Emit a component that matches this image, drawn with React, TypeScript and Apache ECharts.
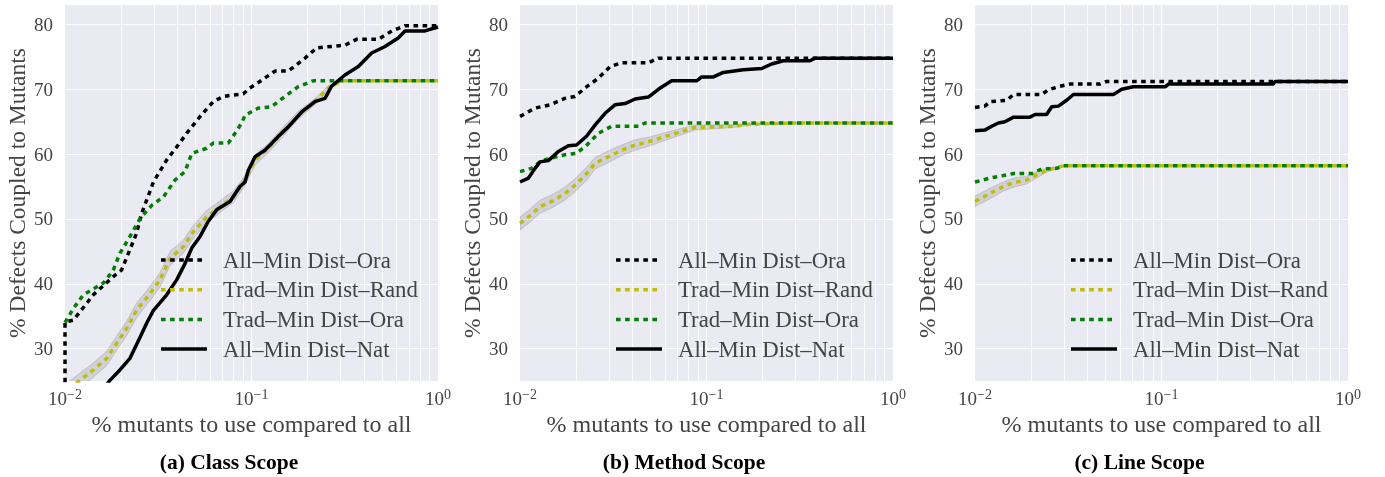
import React, { useEffect, useRef } from "react";
import * as echarts from "echarts";

// ---------- data ----------
const seriesNames = ["All–Min Dist–Ora", "Trad–Min Dist–Rand", "Trad–Min Dist–Ora", "All–Min Dist–Nat"];
const captions = ["(a) Class Scope", "(b) Method Scope", "(c) Line Scope"];
const yTicks = [30, 40, 50, 60, 70, 80];
const xMinor = [0.02, 0.03, 0.04, 0.05, 0.06, 0.07, 0.08, 0.09, 0.2, 0.3, 0.4, 0.5, 0.6, 0.7, 0.8, 0.9];
const xMajor = [0.1];

// Panel A (Class Scope)
const aOraX = [0.01, 0.01, 0.0111, 0.0142, 0.01815, 0.0201, 0.0242, 0.0258, 0.0298, 0.0351, 0.0397, 0.0449, 0.053, 0.0624, 0.0706, 0.0904, 0.098, 0.1045, 0.1337, 0.1575, 0.1936, 0.2235, 0.317, 0.366, 0.478, 0.565, 0.665, 1];
const aOraY = [22, 34.1, 34.4, 38.3, 41.1, 42.1, 47.8, 50.9, 55.7, 59.1, 61.1, 63.2, 65.8, 68.1, 68.9, 69.3, 70.2, 70.7, 72.8, 72.8, 74.8, 76.4, 76.8, 77.7, 77.7, 79.0, 79.8, 79.8];
const aRandX = [0.0105, 0.012, 0.0142, 0.01675, 0.0189, 0.0214, 0.0242, 0.0286, 0.0323, 0.0366, 0.0431, 0.0487, 0.0575, 0.0678, 0.0798, 0.0886, 0.0923, 0.1045, 0.123, 0.145, 0.178, 0.219, 0.258, 0.305, 1];
const aRandY = [23.8, 25.1, 26.7, 28.5, 30.8, 33.1, 35.9, 38.5, 40.6, 43.9, 45.7, 48.0, 50.3, 51.9, 53.4, 55.2, 56.0, 59.1, 60.9, 63.2, 66.0, 68.1, 70.2, 71.3, 71.3];
const aRandSpread = [1.1, 1.1, 1.1, 1.1, 1.1, 1.1, 1.1, 1.1, 1.1, 1.1, 1.0, 1.0, 1.0, 0.9, 0.9, 0.8, 0.8, 0.8, 0.7, 0.7, 0.6, 0.5, 0.3, 0, 0];
const aTradOraX = [0.01, 0.0111, 0.01254, 0.01605, 0.01815, 0.0197, 0.0223, 0.0253, 0.0292, 0.0337, 0.0389, 0.044, 0.0478, 0.0575, 0.0624, 0.0751, 0.0798, 0.0886, 0.0923, 0.109, 0.128, 0.151, 0.178, 0.214, 1];
const aTradOraY = [34.0, 36.2, 38.3, 40.1, 42.1, 44.7, 47.3, 50.1, 52.1, 53.4, 56.0, 57.3, 60.1, 60.9, 61.7, 61.7, 62.8, 64.8, 66.0, 67.1, 67.3, 68.9, 70.4, 71.3, 71.3];
const aNatX = [0.0163, 0.0174, 0.0197, 0.0223, 0.0253, 0.0274, 0.0298, 0.0351, 0.0397, 0.044, 0.0478, 0.053, 0.0586, 0.065, 0.0767, 0.0867, 0.0923, 0.0962, 0.1045, 0.118, 0.139, 0.1575, 0.186, 0.219, 0.248, 0.269, 0.317, 0.374, 0.441, 0.52, 0.612, 0.666, 0.851, 1];
const aNatY = [24.0, 25.1, 26.7, 28.5, 31.8, 33.9, 35.9, 38.3, 40.6, 43.1, 45.5, 47.3, 49.6, 51.4, 52.7, 55.0, 55.7, 57.5, 59.6, 60.6, 62.7, 64.2, 66.5, 68.1, 68.6, 70.5, 72.2, 73.5, 75.6, 76.6, 77.9, 79.0, 79.0, 79.6];

// Panel B (Method Scope)
const bOraX = [0.01, 0.01204, 0.01448, 0.0174, 0.0197, 0.0228, 0.0263, 0.0304, 0.0351, 0.0488, 0.0552, 1];
const bOraY = [65.8, 67.1, 67.6, 68.6, 68.9, 70.4, 71.7, 73.5, 74.1, 74.1, 74.8, 74.8];
const bRandX = [0.01, 0.0111, 0.0128, 0.0148, 0.0174, 0.0197, 0.0228, 0.0253, 0.0298, 0.0351, 0.0414, 0.0488, 0.0599, 0.0736, 0.0867, 0.139, 0.171, 0.292, 1];
const bRandY = [49.3, 50.3, 51.9, 52.7, 53.9, 55.2, 57.0, 58.6, 59.6, 60.6, 61.4, 61.9, 62.7, 63.5, 64.1, 64.3, 64.6, 64.8, 64.8];
const bRandSpread = [1.0, 1.0, 1.0, 1.0, 1.0, 1.0, 1.0, 0.9, 0.9, 0.8, 0.8, 0.7, 0.6, 0.5, 0.4, 0.2, 0.1, 0, 0];
const bTradOraX = [0.01, 0.01155, 0.01306, 0.0174, 0.0201, 0.0228, 0.0263, 0.031, 0.0432, 0.0468, 1];
const bTradOraY = [57.3, 57.8, 59.0, 59.9, 60.1, 61.4, 63.2, 64.3, 64.3, 64.8, 64.8];
const bNatX = [0.01, 0.0111, 0.01204, 0.0128, 0.0142, 0.01605, 0.01815, 0.0201, 0.0228, 0.0253, 0.0286, 0.0323, 0.0366, 0.0414, 0.0488, 0.0552, 0.065, 0.0886, 0.0942, 0.109, 0.123, 0.1575, 0.198, 0.2235, 0.258, 0.359, 0.382, 1];
const bNatY = [55.7, 56.3, 57.8, 58.8, 59.0, 60.4, 61.3, 61.4, 62.8, 64.5, 66.3, 67.6, 67.8, 68.5, 68.8, 70.0, 71.3, 71.3, 71.9, 71.9, 72.6, 73.0, 73.2, 73.9, 74.4, 74.4, 74.8, 74.8];

// Panel C (Line Scope)
const cOraX = [0.01, 0.0113, 0.01204, 0.0148, 0.0161, 0.0228, 0.0247, 0.028, 0.0323, 0.0468, 0.0508, 1];
const cOraY = [67.2, 67.4, 68.1, 68.3, 69.2, 69.2, 69.9, 70.4, 70.8, 70.8, 71.2, 71.2];
const cRandX = [0.01, 0.0113, 0.01254, 0.0142, 0.0161, 0.0189, 0.0214, 0.0242, 0.0298, 1];
const cRandY = [52.7, 53.5, 54.2, 55.0, 55.6, 56.0, 56.8, 57.5, 58.2, 58.2];
const cRandSpread = [0.8, 0.8, 0.8, 0.7, 0.7, 0.6, 0.5, 0.3, 0, 0];
const cTradOraX = [0.01, 0.01204, 0.0148, 0.0161, 0.0201, 0.0228, 0.0274, 0.0298, 1];
const cTradOraY = [55.7, 56.3, 56.8, 57.0, 57.0, 57.7, 57.8, 58.2, 58.2];
const cNatX = [0.01, 0.0113, 0.0123, 0.01334, 0.01448, 0.0161, 0.0197, 0.021, 0.0242, 0.0258, 0.028, 0.031, 0.0337, 0.0552, 0.0612, 0.0706, 0.105, 0.109, 0.398, 0.405, 1];
const cNatY = [63.6, 63.7, 64.3, 64.8, 65.0, 65.7, 65.7, 66.1, 66.1, 67.3, 67.4, 68.3, 69.2, 69.2, 70.0, 70.4, 70.4, 70.8, 70.8, 71.2, 71.2];

const panels = [
  { ora: [aOraX, aOraY], rand: [aRandX, aRandY, aRandSpread], tradOra: [aTradOraX, aTradOraY], nat: [aNatX, aNatY] },
  { ora: [bOraX, bOraY], rand: [bRandX, bRandY, bRandSpread], tradOra: [bTradOraX, bTradOraY], nat: [bNatX, bNatY] },
  { ora: [cOraX, cOraY], rand: [cRandX, cRandY, cRandSpread], tradOra: [cTradOraX, cTradOraY], nat: [cNatX, cNatY] },
];

// ---------- layout / style ----------
const FONT = "'Liberation Serif', 'Times New Roman', serif";
const TXT = "#444";
const gridLefts = [65, 520, 975];
const PLOT_W = 373;
const PLOT_TOP = 5;
const PLOT_H = 376;
const DASH = [4.6, 4.5];
const LW = 3.5;

// legend handles (46 x 3.5 boxes)
const ICON_SOLID = "path://M0,0H46V3.5H0Z";
const ICON_DOT =
  "path://M0,0H4.6V3.5H0Z M9.1,0H13.7V3.5H9.1Z M18.2,0H22.8V3.5H18.2Z M27.3,0H31.9V3.5H27.3Z M36.4,0H41V3.5H36.4Z M46,3.5Z";

const pairs = (xs: number[], ys: number[]) => xs.map((x, i) => [x, ys[i]]);

function buildOption() {
  const grid: any[] = [];
  const xAxis: any[] = [];
  const yAxis: any[] = [];
  const series: any[] = [];
  const legend: any[] = [];
  const graphic: any[] = [];

  panels.forEach((p, i) => {
    grid.push({
      left: gridLefts[i], top: PLOT_TOP, width: PLOT_W, height: PLOT_H,
      show: true, backgroundColor: "#EAEAF2", borderWidth: 0,
    });
    xAxis.push({
      type: "log", logBase: 10, min: 0.01, max: 1, gridIndex: i,
      axisLine: { show: false }, axisTick: { show: false }, splitLine: { show: false },
      name: "% mutants to use compared to all", nameLocation: "middle", nameGap: 30,
      nameTextStyle: { fontFamily: FONT, fontSize: 24, color: TXT },
      axisLabel: {
        margin: 6,
        formatter: (v: number) => {
          const e = Math.round(Math.log10(v));
          return "{b|10}{s|" + (e < 0 ? "\u2212" + -e : String(e)) + "}";
        },
        rich: {
          b: { fontFamily: FONT, fontSize: 19, color: TXT, lineHeight: 22 },
          s: { fontFamily: FONT, fontSize: 14, color: TXT, verticalAlign: "top", lineHeight: 14 },
        },
      },
    });
    yAxis.push({
      type: "value", min: 25, max: 83, gridIndex: i,
      axisLine: { show: false }, axisTick: { show: false }, splitLine: { show: false },
      name: "% Defects Coupled to Mutants", nameLocation: "middle", nameGap: 36, nameRotate: 90,
      nameTextStyle: { fontFamily: FONT, fontSize: 23.5, color: TXT },
      axisLabel: { customValues: yTicks, margin: 12, fontFamily: FONT, fontSize: 19, color: TXT },
    });

    // grid lines through the axes' scales (drawn beneath the data)
    const mlData: any[] = [];
    yTicks.forEach((v) => mlData.push({ yAxis: v, lineStyle: { color: "#fff", width: 1.2, type: "solid" } }));
    xMajor.forEach((v) => mlData.push({ xAxis: v, lineStyle: { color: "#fff", width: 1.2, type: "solid" } }));
    xMinor.forEach((v) => mlData.push({ xAxis: v, lineStyle: { color: "#fff", width: 0.9, type: "solid" } }));
    series.push({
      type: "line", name: "grid" + i, xAxisIndex: i, yAxisIndex: i, z: 1,
      data: [[0.01, 25]], symbol: "none", lineStyle: { opacity: 0 }, silent: true,
      markLine: { z: 1, silent: true, symbol: ["none", "none"], label: { show: false }, animation: false, data: mlData },
    });

    const [rx, ry, rs] = p.rand as number[][];
    const bandData = rx.map((x, k) => [x, ry[k] - rs[k], ry[k] + rs[k]]);
    series.push({
      type: "custom", name: "band" + i, xAxisIndex: i, yAxisIndex: i, z: 2, silent: true, clip: true,
      data: bandData,
      encode: { x: 0, y: [1, 2] },
      renderItem: (params: any, api: any) => {
        if (params.dataIndex !== 0) return null;
        const upper = bandData.map((d) => api.coord([d[0], d[2]]));
        const lower = bandData.map((d) => api.coord([d[0], d[1]])).reverse();
        return {
          type: "polygon",
          shape: { points: upper.concat(lower) },
          style: { fill: "rgba(120,120,130,0.22)", stroke: "rgba(110,110,120,0.28)", lineWidth: 1 },
        };
      },
    });

    const line = (name: string, xs: number[], ys: number[], color: string, dotted: boolean) => ({
      type: "line", name, xAxisIndex: i, yAxisIndex: i, z: 3,
      data: pairs(xs, ys), symbol: "none", showSymbol: false, silent: true,
      lineStyle: { color, width: LW, type: dotted ? DASH : "solid", cap: "butt" },
      itemStyle: { color },
    });
    series.push(line(seriesNames[0], p.ora[0], p.ora[1], "#000000", true));
    series.push(line(seriesNames[1], rx, ry, "#BFBF00", true));
    series.push(line(seriesNames[2], p.tradOra[0], p.tradOra[1], "#008000", true));
    series.push(line(seriesNames[3], p.nat[0], p.nat[1], "#000000", false));

    legend.push({
      data: [
        { name: seriesNames[0], icon: ICON_DOT },
        { name: seriesNames[1], icon: ICON_DOT },
        { name: seriesNames[2], icon: ICON_DOT },
        { name: seriesNames[3], icon: ICON_SOLID },
      ],
      z: 10,
      orient: "vertical", left: gridLefts[i] + 96, top: 248, padding: 0,
      itemWidth: 46, itemHeight: 14, itemGap: 5.7, selectedMode: false,
      itemStyle: { borderWidth: 0 },
      textStyle: { fontFamily: FONT, fontSize: 22.8, color: TXT, lineHeight: 24, padding: [0, 0, 0, 11] },
    });

    graphic.push({
      type: "text",
      x: [229, 684, 1139.5][i], y: 462,
      style: { text: captions[i], font: "bold 21.5px " + FONT, fill: "#000", textAlign: "center", textVerticalAlign: "middle" },
    });
  });

  return { animation: false, grid, xAxis, yAxis, series, legend, graphic };
}

export default function App() {
  const ref = useRef<HTMLDivElement>(null);
  useEffect(() => {
    const chart = echarts.init(ref.current as HTMLDivElement, null, { renderer: "svg" });
    chart.setOption(buildOption() as any);
    return () => chart.dispose();
  }, []);
  return <div ref={ref} style={{ position: "fixed", left: 0, top: 0, width: 1385, height: 477 }} />;
}
